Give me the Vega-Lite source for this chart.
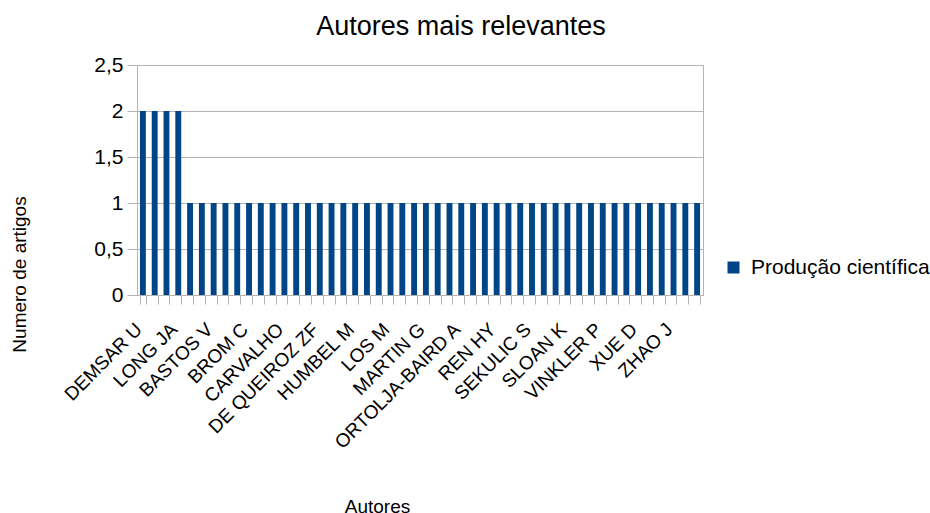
{
  "$schema": "https://vega.github.io/schema/vega-lite/v6.json",
  "width": 566,
  "height": 230,
  "autosize": {"type": "none"},
  "padding": {"left": 137, "top": 65, "right": 227, "bottom": 218},
  "background": "#ffffff",
  "config": {
    "font": "Liberation Sans",
    "view": {"stroke": "#b3b3b3", "strokeWidth": 1}
  },
  "title": {
    "text": "Autores mais relevantes",
    "fontSize": 27,
    "fontWeight": "normal",
    "color": "#000000",
    "font": "Liberation Sans",
    "anchor": "middle",
    "frame": "group",
    "dx": 41,
    "dy": 35,
    "baseline": "alphabetic",
    "offset": 27
  },
  "data": {
    "values": [
      {"autor": "DEMSAR U", "artigos": 2},
      {"autor": "DODGE S", "artigos": 2},
      {"autor": "LAUBE P", "artigos": 2},
      {"autor": "LONG JA", "artigos": 2},
      {"autor": "ALVES R", "artigos": 1},
      {"autor": "ARAUJO M", "artigos": 1},
      {"autor": "BASTOS V", "artigos": 1},
      {"autor": "BERTOLDI R", "artigos": 1},
      {"autor": "BORGES J", "artigos": 1},
      {"autor": "BROM C", "artigos": 1},
      {"autor": "BUCHIN K", "artigos": 1},
      {"autor": "CAO Y", "artigos": 1},
      {"autor": "CARVALHO", "artigos": 1},
      {"autor": "CHEN X", "artigos": 1},
      {"autor": "COSTA A", "artigos": 1},
      {"autor": "DE QUEIROZ ZF", "artigos": 1},
      {"autor": "GALTON A", "artigos": 1},
      {"autor": "GUDMUNDSSON J", "artigos": 1},
      {"autor": "HUMBEL M", "artigos": 1},
      {"autor": "KWAN MP", "artigos": 1},
      {"autor": "LIU Y", "artigos": 1},
      {"autor": "LOS M", "artigos": 1},
      {"autor": "MA Z", "artigos": 1},
      {"autor": "MARCHI S", "artigos": 1},
      {"autor": "MARTIN G", "artigos": 1},
      {"autor": "MILLER HJ", "artigos": 1},
      {"autor": "NATHAN R", "artigos": 1},
      {"autor": "ORTOLJA-BAIRD A", "artigos": 1},
      {"autor": "PARK S", "artigos": 1},
      {"autor": "PURVES R", "artigos": 1},
      {"autor": "REN HY", "artigos": 1},
      {"autor": "SANTOS L", "artigos": 1},
      {"autor": "SCHMIDT T", "artigos": 1},
      {"autor": "SEKULIC S", "artigos": 1},
      {"autor": "SHAW SL", "artigos": 1},
      {"autor": "SILVA P", "artigos": 1},
      {"autor": "SLOAN K", "artigos": 1},
      {"autor": "SMITH J", "artigos": 1},
      {"autor": "SOUZA R", "artigos": 1},
      {"autor": "VINKLER P", "artigos": 1},
      {"autor": "WANG J", "artigos": 1},
      {"autor": "WEIBEL R", "artigos": 1},
      {"autor": "XUE D", "artigos": 1},
      {"autor": "YANG L", "artigos": 1},
      {"autor": "ZHANG Y", "artigos": 1},
      {"autor": "ZHAO J", "artigos": 1},
      {"autor": "ZHENG Y", "artigos": 1},
      {"autor": "ZHOU X", "artigos": 1}
    ]
  },
  "mark": {"type": "bar"},
  "encoding": {
    "x": {
      "field": "autor",
      "type": "nominal",
      "sort": null,
      "scale": {"paddingInner": 0.5, "paddingOuter": 0.25},
      "axis": {
        "title": "Autores",
        "titleFont": "Liberation Sans",
        "titleFontSize": 19,
        "titleFontWeight": "normal",
        "titleColor": "#000000",
        "titleX": 240,
        "titleY": 217,
        "titleAlign": "center",
        "titleBaseline": "alphabetic",
        "labelAngle": -45,
        "labelAlign": "right",
        "labelBaseline": "middle",
        "labelFontSize": 19,
        "labelColor": "#000000",
        "labelPadding": 22,
        "labelOffset": -4.5,
        "labelOverlap": false,
        "labelLimit": 0,
        "labelExpr": "indexof(['DEMSAR U','LONG JA','BASTOS V','BROM C','CARVALHO','DE QUEIROZ ZF','HUMBEL M','LOS M','MARTIN G','ORTOLJA-BAIRD A','REN HY','SEKULIC S','SLOAN K','VINKLER P','XUE D','ZHAO J'], datum.value) >= 0 ? datum.value : ''",
        "tickBand": "extent",
        "tickSize": 9,
        "tickColor": "#b3b3b3",
        "domainColor": "#b3b3b3",
        "grid": false
      }
    },
    "y": {
      "field": "artigos",
      "type": "quantitative",
      "scale": {"domain": [0, 2.5], "nice": false},
      "axis": {
        "title": "Numero de artigos",
        "titleFont": "Liberation Sans",
        "titleFontSize": 19,
        "titleFontWeight": "normal",
        "titleColor": "#000000",
        "titleX": -118,
        "titleY": 209,
        "titleAlign": "center",
        "titleBaseline": "middle",
        "titleAngle": -90,
        "values": [0, 0.5, 1, 1.5, 2, 2.5],
        "labelExpr": "replace(format(datum.value, '~g'), '.', ',')",
        "labelFontSize": 21,
        "labelColor": "#000000",
        "labelPadding": 4,
        "tickSize": 10,
        "tickColor": "#b3b3b3",
        "domainColor": "#b3b3b3",
        "gridColor": "#b3b3b3",
        "grid": true
      }
    },
    "color": {
      "datum": "Produção científica",
      "type": "nominal",
      "scale": {"range": ["#004586"]},
      "legend": {
        "title": null,
        "orient": "none",
        "legendX": 586,
        "legendY": 192,
        "symbolType": "square",
        "symbolSize": 144,
        "symbolStrokeWidth": 0,
        "labelFontSize": 21,
        "labelColor": "#000000",
        "labelFont": "Liberation Sans",
        "labelOffset": 7,
        "labelLimit": 0,
        "padding": 0
      }
    }
  }
}
